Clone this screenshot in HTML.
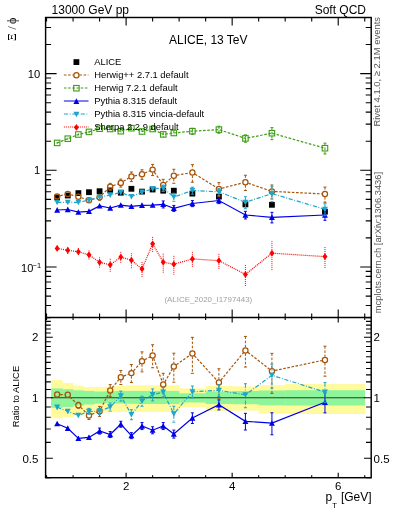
<!DOCTYPE html>
<html><head><meta charset="utf-8"><style>
html,body{margin:0;padding:0;background:#fff;width:393px;height:512px;overflow:hidden}
svg text{font-family:"Liberation Sans",sans-serif}
svg{will-change:transform}
</style></head><body>
<svg width="393" height="512" viewBox="0 0 393 512" style="position:absolute;left:0;top:0">
<defs><clipPath id="cu"><rect x="45.6" y="17.5" width="325.59999999999997" height="299.9"/></clipPath><clipPath id="cr"><rect x="45.6" y="317.4" width="325.59999999999997" height="160.3"/></clipPath></defs>
<rect width="393" height="512" fill="#fff"/>
<rect x="51.10" y="380.1" width="11.66" height="38.20" fill="#fffa9c"/>
<rect x="62.46" y="382.9" width="10.91" height="34.10" fill="#fffa9c"/>
<rect x="73.07" y="385.8" width="10.91" height="29.90" fill="#fffa9c"/>
<rect x="83.68" y="387.1" width="10.91" height="26.40" fill="#fffa9c"/>
<rect x="94.28" y="387.1" width="10.91" height="25.40" fill="#fffa9c"/>
<rect x="104.89" y="386.7" width="10.91" height="25.50" fill="#fffa9c"/>
<rect x="115.49" y="385.8" width="10.91" height="26.10" fill="#fffa9c"/>
<rect x="126.10" y="385.4" width="10.91" height="26.50" fill="#fffa9c"/>
<rect x="136.71" y="385.2" width="10.91" height="26.70" fill="#fffa9c"/>
<rect x="147.31" y="385.2" width="10.91" height="26.70" fill="#fffa9c"/>
<rect x="157.92" y="385.2" width="10.91" height="26.70" fill="#fffa9c"/>
<rect x="168.52" y="385.2" width="10.91" height="26.70" fill="#fffa9c"/>
<rect x="179.13" y="388.4" width="26.81" height="18.70" fill="#fffa9c"/>
<rect x="205.64" y="386.0" width="26.82" height="24.90" fill="#fffa9c"/>
<rect x="232.16" y="386.4" width="26.81" height="24.20" fill="#fffa9c"/>
<rect x="258.67" y="385.1" width="26.82" height="28.50" fill="#fffa9c"/>
<rect x="285.19" y="384.1" width="79.85" height="29.90" fill="#fffa9c"/>
<rect x="51.10" y="388.4" width="11.66" height="19.40" fill="#8ef59a"/>
<rect x="62.46" y="389.2" width="10.91" height="17.80" fill="#8ef59a"/>
<rect x="73.07" y="390.3" width="10.91" height="15.20" fill="#8ef59a"/>
<rect x="83.68" y="390.9" width="10.91" height="13.60" fill="#8ef59a"/>
<rect x="94.28" y="391.5" width="10.91" height="12.10" fill="#8ef59a"/>
<rect x="104.89" y="391.3" width="10.91" height="11.90" fill="#8ef59a"/>
<rect x="115.49" y="390.9" width="10.91" height="12.70" fill="#8ef59a"/>
<rect x="126.10" y="390.9" width="10.91" height="12.90" fill="#8ef59a"/>
<rect x="136.71" y="390.9" width="10.91" height="13.10" fill="#8ef59a"/>
<rect x="147.31" y="390.9" width="10.91" height="13.10" fill="#8ef59a"/>
<rect x="157.92" y="390.9" width="10.91" height="13.10" fill="#8ef59a"/>
<rect x="168.52" y="390.9" width="10.91" height="13.10" fill="#8ef59a"/>
<rect x="179.13" y="393.3" width="26.81" height="9.20" fill="#8ef59a"/>
<rect x="205.64" y="391.5" width="26.82" height="12.50" fill="#8ef59a"/>
<rect x="232.16" y="391.0" width="26.81" height="13.20" fill="#8ef59a"/>
<rect x="258.67" y="390.5" width="26.82" height="14.80" fill="#8ef59a"/>
<rect x="285.19" y="390.2" width="79.85" height="15.30" fill="#8ef59a"/>
<line x1="51.1" y1="397.8" x2="364.74" y2="397.8" stroke="#2a3a2a" stroke-width="1.1"/>
<path d="M46.55,17.50L46.55,21.50M46.55,317.40L46.55,313.40M46.55,317.40L46.55,319.90M46.55,477.70L46.55,475.20M73.07,17.50L73.07,21.50M73.07,317.40L73.07,313.40M73.07,317.40L73.07,319.90M73.07,477.70L73.07,475.20M99.58,17.50L99.58,21.50M99.58,317.40L99.58,313.40M99.58,317.40L99.58,319.90M99.58,477.70L99.58,475.20M126.10,17.50L126.10,25.50M126.10,317.40L126.10,309.40M126.10,317.40L126.10,322.40M126.10,477.70L126.10,472.70M152.62,17.50L152.62,21.50M152.62,317.40L152.62,313.40M152.62,317.40L152.62,319.90M152.62,477.70L152.62,475.20M179.13,17.50L179.13,21.50M179.13,317.40L179.13,313.40M179.13,317.40L179.13,319.90M179.13,477.70L179.13,475.20M205.64,17.50L205.64,21.50M205.64,317.40L205.64,313.40M205.64,317.40L205.64,319.90M205.64,477.70L205.64,475.20M232.16,17.50L232.16,25.50M232.16,317.40L232.16,309.40M232.16,317.40L232.16,322.40M232.16,477.70L232.16,472.70M258.67,17.50L258.67,21.50M258.67,317.40L258.67,313.40M258.67,317.40L258.67,319.90M258.67,477.70L258.67,475.20M285.19,17.50L285.19,21.50M285.19,317.40L285.19,313.40M285.19,317.40L285.19,319.90M285.19,477.70L285.19,475.20M311.71,17.50L311.71,21.50M311.71,317.40L311.71,313.40M311.71,317.40L311.71,319.90M311.71,477.70L311.71,475.20M338.22,17.50L338.22,25.50M338.22,317.40L338.22,309.40M338.22,317.40L338.22,322.40M338.22,477.70L338.22,472.70M364.74,17.50L364.74,21.50M364.74,317.40L364.74,313.40M364.74,317.40L364.74,319.90M364.74,477.70L364.74,475.20M45.60,317.56L51.10,317.56M371.20,317.56L365.70,317.56M45.60,305.48L51.10,305.48M371.20,305.48L365.70,305.48M45.60,296.11L51.10,296.11M371.20,296.11L365.70,296.11M45.60,288.45L51.10,288.45M371.20,288.45L365.70,288.45M45.60,281.98L51.10,281.98M371.20,281.98L365.70,281.98M45.60,276.37L51.10,276.37M371.20,276.37L365.70,276.37M45.60,271.42L51.10,271.42M371.20,271.42L365.70,271.42M45.60,267.00L56.60,267.00M371.20,267.00L360.20,267.00M45.60,237.89L51.10,237.89M371.20,237.89L365.70,237.89M45.60,220.86L51.10,220.86M371.20,220.86L365.70,220.86M45.60,208.78L51.10,208.78M371.20,208.78L365.70,208.78M45.60,199.41L51.10,199.41M371.20,199.41L365.70,199.41M45.60,191.75L51.10,191.75M371.20,191.75L365.70,191.75M45.60,185.28L51.10,185.28M371.20,185.28L365.70,185.28M45.60,179.67L51.10,179.67M371.20,179.67L365.70,179.67M45.60,174.72L51.10,174.72M371.20,174.72L365.70,174.72M45.60,170.30L56.60,170.30M371.20,170.30L360.20,170.30M45.60,141.19L51.10,141.19M371.20,141.19L365.70,141.19M45.60,124.16L51.10,124.16M371.20,124.16L365.70,124.16M45.60,112.08L51.10,112.08M371.20,112.08L365.70,112.08M45.60,102.71L51.10,102.71M371.20,102.71L365.70,102.71M45.60,95.05L51.10,95.05M371.20,95.05L365.70,95.05M45.60,88.58L51.10,88.58M371.20,88.58L365.70,88.58M45.60,82.97L51.10,82.97M371.20,82.97L365.70,82.97M45.60,78.02L51.10,78.02M371.20,78.02L365.70,78.02M45.60,73.60L56.60,73.60M371.20,73.60L360.20,73.60M45.60,44.49L51.10,44.49M371.20,44.49L365.70,44.49M45.60,27.46L51.10,27.46M371.20,27.46L365.70,27.46M45.60,477.79L50.80,477.79M371.20,477.79L366.00,477.79M45.60,458.31L52.80,458.31M371.20,458.31L364.00,458.31M45.60,442.39L50.80,442.39M371.20,442.39L366.00,442.39M45.60,428.94L50.80,428.94M371.20,428.94L366.00,428.94M45.60,417.28L50.80,417.28M371.20,417.28L366.00,417.28M45.60,407.00L50.80,407.00M371.20,407.00L366.00,407.00M45.60,397.80L52.80,397.80M371.20,397.80L364.00,397.80M45.60,389.48L50.80,389.48M371.20,389.48L366.00,389.48M45.60,381.88L50.80,381.88M371.20,381.88L366.00,381.88M45.60,374.90L50.80,374.90M371.20,374.90L366.00,374.90M45.60,368.43L50.80,368.43M371.20,368.43L366.00,368.43M45.60,362.41L50.80,362.41M371.20,362.41L366.00,362.41M45.60,356.77L50.80,356.77M371.20,356.77L366.00,356.77M45.60,351.48L50.80,351.48M371.20,351.48L366.00,351.48M45.60,346.49L50.80,346.49M371.20,346.49L366.00,346.49M45.60,341.77L50.80,341.77M371.20,341.77L366.00,341.77M45.60,337.29L52.80,337.29M371.20,337.29L364.00,337.29M45.60,333.03L50.80,333.03M371.20,333.03L366.00,333.03M45.60,328.97L50.80,328.97M371.20,328.97L366.00,328.97M45.60,325.09L50.80,325.09M371.20,325.09L366.00,325.09M45.60,321.38L50.80,321.38M371.20,321.38L366.00,321.38M45.60,317.81L50.80,317.81M371.20,317.81L366.00,317.81" stroke="#000" stroke-width="1.1" fill="none"/>
<rect x="45.6" y="17.5" width="325.59999999999997" height="460.2" fill="none" stroke="#000" stroke-width="1.45"/>
<line x1="45.6" y1="317.4" x2="371.2" y2="317.4" stroke="#000" stroke-width="1.45"/>
<g><rect x="54.26" y="194.60" width="5.8" height="5.8" fill="#000"/><rect x="64.87" y="192.60" width="5.8" height="5.8" fill="#000"/><rect x="75.47" y="190.20" width="5.8" height="5.8" fill="#000"/><rect x="86.08" y="189.30" width="5.8" height="5.8" fill="#000"/><rect x="96.68" y="188.30" width="5.8" height="5.8" fill="#000"/><rect x="107.29" y="187.50" width="5.8" height="5.8" fill="#000"/><rect x="117.90" y="189.80" width="5.8" height="5.8" fill="#000"/><rect x="128.50" y="185.90" width="5.8" height="5.8" fill="#000"/><rect x="139.11" y="188.70" width="5.8" height="5.8" fill="#000"/><rect x="149.72" y="186.60" width="5.8" height="5.8" fill="#000"/><rect x="160.32" y="187.80" width="5.8" height="5.8" fill="#000"/><rect x="170.93" y="187.80" width="5.8" height="5.8" fill="#000"/><rect x="189.49" y="190.70" width="5.8" height="5.8" fill="#000"/><rect x="216.00" y="193.70" width="5.8" height="5.8" fill="#000"/><rect x="242.52" y="201.50" width="5.8" height="5.8" fill="#000"/><rect x="269.03" y="201.90" width="5.8" height="5.8" fill="#000"/><rect x="322.06" y="208.80" width="5.8" height="5.8" fill="#000"/></g>
<path d="M60.18,195.72L64.74,194.68M70.77,194.76L75.37,195.94M81.31,197.70L86.04,199.30M91.95,199.43L96.61,198.07M101.79,195.02L107.99,188.88M113.11,185.65L117.88,183.95M123.45,181.30L128.75,178.10M134.44,175.87L138.97,174.93M144.84,173.04L149.78,170.86M154.38,172.15L161.45,182.35M165.56,182.87L171.49,177.73M176.88,175.17L189.33,173.03M195.02,174.14L216.27,187.36M221.91,188.23L242.41,182.97M248.35,183.22L269.00,190.38M275.03,191.55L321.87,193.85" fill="none" stroke="#a5540a" stroke-width="1.2" stroke-dasharray="2.6 1.6" clip-path="url(#cu)"/>
<path d="M99.58,200.20V200.31M110.19,183.35V183.70M110.19,189.70V190.35M120.80,179.09V179.90M120.80,185.90V187.09M131.40,171.97V173.50M131.40,179.50V181.57M142.01,169.77V171.30M142.01,177.30V179.37M152.62,164.37V166.60M152.62,172.60V175.57M163.22,179.33V181.90M163.22,187.90V191.33M173.83,169.28V172.70M173.83,178.70V183.28M192.39,164.62V169.50M192.39,175.50V182.22M218.90,182.58V186.00M218.90,192.00V196.58M245.42,175.28V179.20M245.42,185.20V190.48M271.93,184.98V188.40M271.93,194.40V198.98M324.96,187.08V191.00M324.96,197.00V202.28" fill="none" stroke="#a5540a" stroke-width="1.0" stroke-dasharray="2.6 1.6" clip-path="url(#cu)"/>
<path d="M98.08,194.31H101.08M98.08,200.31H101.08M108.69,183.35H111.69M108.69,190.35H111.69M119.30,179.09H122.30M119.30,187.09H122.30M129.90,171.97H132.90M129.90,181.57H132.90M140.51,169.77H143.51M140.51,179.37H143.51M151.12,164.37H154.12M151.12,175.57H154.12M161.72,179.33H164.72M161.72,191.33H164.72M172.33,169.28H175.33M172.33,183.28H175.33M190.89,164.62H193.89M190.89,182.22H193.89M217.40,182.58H220.40M217.40,196.58H220.40M243.92,175.28H246.92M243.92,190.48H246.92M270.43,184.98H273.43M270.43,198.98H273.43M323.46,187.08H326.46M323.46,202.28H326.46" fill="none" stroke="#a5540a" stroke-width="1" clip-path="url(#cu)"/>
<g clip-path="url(#cu)"><circle cx="57.16" cy="196.40" r="2.6" fill="none" stroke="#a5540a" stroke-width="1.25"/><circle cx="67.77" cy="194.00" r="2.6" fill="none" stroke="#a5540a" stroke-width="1.25"/><circle cx="78.37" cy="196.70" r="2.6" fill="none" stroke="#a5540a" stroke-width="1.25"/><circle cx="88.98" cy="200.30" r="2.6" fill="none" stroke="#a5540a" stroke-width="1.25"/><circle cx="99.58" cy="197.20" r="2.6" fill="none" stroke="#a5540a" stroke-width="1.25"/><circle cx="110.19" cy="186.70" r="2.6" fill="none" stroke="#a5540a" stroke-width="1.25"/><circle cx="120.80" cy="182.90" r="2.6" fill="none" stroke="#a5540a" stroke-width="1.25"/><circle cx="131.40" cy="176.50" r="2.6" fill="none" stroke="#a5540a" stroke-width="1.25"/><circle cx="142.01" cy="174.30" r="2.6" fill="none" stroke="#a5540a" stroke-width="1.25"/><circle cx="152.62" cy="169.60" r="2.6" fill="none" stroke="#a5540a" stroke-width="1.25"/><circle cx="163.22" cy="184.90" r="2.6" fill="none" stroke="#a5540a" stroke-width="1.25"/><circle cx="173.83" cy="175.70" r="2.6" fill="none" stroke="#a5540a" stroke-width="1.25"/><circle cx="192.39" cy="172.50" r="2.6" fill="none" stroke="#a5540a" stroke-width="1.25"/><circle cx="218.90" cy="189.00" r="2.6" fill="none" stroke="#a5540a" stroke-width="1.25"/><circle cx="245.42" cy="182.20" r="2.6" fill="none" stroke="#a5540a" stroke-width="1.25"/><circle cx="271.93" cy="191.40" r="2.6" fill="none" stroke="#a5540a" stroke-width="1.25"/><circle cx="324.96" cy="194.00" r="2.6" fill="none" stroke="#a5540a" stroke-width="1.25"/></g>
<polyline points="57.16,142.90 67.77,138.70 78.37,134.50 88.98,131.90 99.58,128.70 110.19,129.00 120.80,131.20 131.40,128.20 142.01,131.50 152.62,129.00 163.22,134.40 173.83,133.00 192.39,131.20 218.90,129.60 245.42,138.40 271.93,133.20 324.96,148.20" fill="none" stroke="#3d9e16" stroke-width="1.2" stroke-dasharray="2.6 1.6" clip-path="url(#cu)"/>
<path d="M57.16,141.91V143.91M67.77,137.71V139.71M78.37,133.51V135.51M88.98,130.72V133.12M99.58,127.52V129.92M110.19,127.53V130.53M120.80,129.73V132.73M131.40,126.73V129.73M142.01,129.55V133.55M152.62,127.05V131.05M163.22,131.97V136.97M173.83,130.57V135.57M192.39,128.31V134.31M218.90,126.25V133.25M245.42,134.86V142.26M271.93,127.63V139.63M324.96,143.15V153.95" fill="none" stroke="#3d9e16" stroke-width="1.0" stroke-dasharray="2.6 1.6" clip-path="url(#cu)"/>
<path d="M190.89,128.31H193.89M190.89,134.31H193.89M217.40,126.25H220.40M217.40,133.25H220.40M243.92,134.86H246.92M243.92,142.26H246.92M270.43,127.63H273.43M270.43,139.63H273.43M323.46,143.15H326.46M323.46,153.95H326.46" fill="none" stroke="#3d9e16" stroke-width="1" clip-path="url(#cu)"/>
<g clip-path="url(#cu)"><rect x="54.41" y="140.15" width="5.5" height="5.5" fill="none" stroke="#3d9e16" stroke-width="1.1"/><rect x="65.02" y="135.95" width="5.5" height="5.5" fill="none" stroke="#3d9e16" stroke-width="1.1"/><rect x="75.62" y="131.75" width="5.5" height="5.5" fill="none" stroke="#3d9e16" stroke-width="1.1"/><rect x="86.23" y="129.15" width="5.5" height="5.5" fill="none" stroke="#3d9e16" stroke-width="1.1"/><rect x="96.83" y="125.95" width="5.5" height="5.5" fill="none" stroke="#3d9e16" stroke-width="1.1"/><rect x="107.44" y="126.25" width="5.5" height="5.5" fill="none" stroke="#3d9e16" stroke-width="1.1"/><rect x="118.05" y="128.45" width="5.5" height="5.5" fill="none" stroke="#3d9e16" stroke-width="1.1"/><rect x="128.65" y="125.45" width="5.5" height="5.5" fill="none" stroke="#3d9e16" stroke-width="1.1"/><rect x="139.26" y="128.75" width="5.5" height="5.5" fill="none" stroke="#3d9e16" stroke-width="1.1"/><rect x="149.87" y="126.25" width="5.5" height="5.5" fill="none" stroke="#3d9e16" stroke-width="1.1"/><rect x="160.47" y="131.65" width="5.5" height="5.5" fill="none" stroke="#3d9e16" stroke-width="1.1"/><rect x="171.08" y="130.25" width="5.5" height="5.5" fill="none" stroke="#3d9e16" stroke-width="1.1"/><rect x="189.64" y="128.45" width="5.5" height="5.5" fill="none" stroke="#3d9e16" stroke-width="1.1"/><rect x="216.15" y="126.85" width="5.5" height="5.5" fill="none" stroke="#3d9e16" stroke-width="1.1"/><rect x="242.67" y="135.65" width="5.5" height="5.5" fill="none" stroke="#3d9e16" stroke-width="1.1"/><rect x="269.18" y="130.45" width="5.5" height="5.5" fill="none" stroke="#3d9e16" stroke-width="1.1"/><rect x="322.21" y="145.45" width="5.5" height="5.5" fill="none" stroke="#3d9e16" stroke-width="1.1"/></g>
<polyline points="57.16,210.00 67.77,209.50 78.37,212.20 88.98,211.30 99.58,205.90 110.19,208.00 120.80,205.10 131.40,206.40 142.01,205.30 152.62,205.10 163.22,204.30 173.83,208.30 192.39,203.50 218.90,200.50 245.42,215.00 271.93,217.30 324.96,215.00" fill="none" stroke="#0000e6" stroke-width="1.2" clip-path="url(#cu)"/>
<path d="M57.16,209.01V211.01M67.77,208.51V210.51M78.37,211.21V213.21M88.98,210.12V212.52M99.58,204.43V207.43M110.19,206.53V209.53M120.80,203.63V206.63M131.40,204.45V208.45M142.01,203.35V207.35M152.62,203.15V207.15M163.22,200.95V207.95M173.83,205.41V211.41M192.39,200.61V206.61M218.90,197.61V203.61M245.42,211.37V218.97M271.93,212.33V222.93M324.96,210.30V220.30" fill="none" stroke="#0000e6" stroke-width="1.0" clip-path="url(#cu)"/>
<path d="M161.72,200.95H164.72M161.72,207.95H164.72M172.33,205.41H175.33M172.33,211.41H175.33M190.89,200.61H193.89M190.89,206.61H193.89M217.40,197.61H220.40M217.40,203.61H220.40M243.92,211.37H246.92M243.92,218.97H246.92M270.43,212.33H273.43M270.43,222.93H273.43M323.46,210.30H326.46M323.46,220.30H326.46" fill="none" stroke="#0000e6" stroke-width="1" clip-path="url(#cu)"/>
<g clip-path="url(#cu)"><path d="M57.16,207.05L60.11,212.66L54.21,212.66Z" fill="#0000e6"/><path d="M67.77,206.55L70.72,212.16L64.82,212.16Z" fill="#0000e6"/><path d="M78.37,209.25L81.32,214.85L75.42,214.85Z" fill="#0000e6"/><path d="M88.98,208.35L91.93,213.96L86.03,213.96Z" fill="#0000e6"/><path d="M99.58,202.95L102.53,208.56L96.63,208.56Z" fill="#0000e6"/><path d="M110.19,205.05L113.14,210.66L107.24,210.66Z" fill="#0000e6"/><path d="M120.80,202.15L123.75,207.75L117.85,207.75Z" fill="#0000e6"/><path d="M131.40,203.45L134.35,209.06L128.45,209.06Z" fill="#0000e6"/><path d="M142.01,202.35L144.96,207.96L139.06,207.96Z" fill="#0000e6"/><path d="M152.62,202.15L155.56,207.75L149.67,207.75Z" fill="#0000e6"/><path d="M163.22,201.35L166.17,206.96L160.27,206.96Z" fill="#0000e6"/><path d="M173.83,205.35L176.78,210.96L170.88,210.96Z" fill="#0000e6"/><path d="M192.39,200.55L195.34,206.16L189.44,206.16Z" fill="#0000e6"/><path d="M218.90,197.55L221.85,203.16L215.95,203.16Z" fill="#0000e6"/><path d="M245.42,212.05L248.37,217.66L242.47,217.66Z" fill="#0000e6"/><path d="M271.93,214.35L274.88,219.96L268.98,219.96Z" fill="#0000e6"/><path d="M324.96,212.05L327.91,217.66L322.01,217.66Z" fill="#0000e6"/></g>
<polyline points="57.16,202.40 67.77,202.30 78.37,202.30 88.98,200.20 99.58,197.10 110.19,195.00 120.80,192.40 131.40,196.60 142.01,192.10 152.62,188.80 163.22,188.00 173.83,197.10 192.39,190.50 218.90,191.80 245.42,202.30 271.93,193.60 324.96,209.30" fill="none" stroke="#1ea5c8" stroke-width="1.2" stroke-dasharray="4.2 1.6 0.9 1.7" clip-path="url(#cu)"/>
<path d="M57.16,201.41V203.41M67.77,201.31V203.31M78.37,201.31V203.31M88.98,199.02V201.42M99.58,195.63V198.63M110.19,193.53V196.53M120.80,190.45V194.45M131.40,194.65V198.65M142.01,189.67V194.67M152.62,186.37V191.37M163.22,185.11V191.11M173.83,193.29V201.29M192.39,187.15V194.15M218.90,188.45V195.45M245.42,196.73V208.73M271.93,186.77V201.77M324.96,203.73V215.73" fill="none" stroke="#1ea5c8" stroke-width="1.0" stroke-dasharray="4.2 1.6 0.9 1.7" clip-path="url(#cu)"/>
<path d="M161.72,185.11H164.72M161.72,191.11H164.72M172.33,193.29H175.33M172.33,201.29H175.33M190.89,187.15H193.89M190.89,194.15H193.89M217.40,188.45H220.40M217.40,195.45H220.40M243.92,196.73H246.92M243.92,208.73H246.92M270.43,186.77H273.43M270.43,201.77H273.43M323.46,203.73H326.46M323.46,215.73H326.46" fill="none" stroke="#1ea5c8" stroke-width="1" clip-path="url(#cu)"/>
<g clip-path="url(#cu)"><path d="M57.16,205.35L60.11,199.75L54.21,199.75Z" fill="#1ea5c8"/><path d="M67.77,205.25L70.72,199.65L64.82,199.65Z" fill="#1ea5c8"/><path d="M78.37,205.25L81.32,199.65L75.42,199.65Z" fill="#1ea5c8"/><path d="M88.98,203.15L91.93,197.54L86.03,197.54Z" fill="#1ea5c8"/><path d="M99.58,200.05L102.53,194.44L96.63,194.44Z" fill="#1ea5c8"/><path d="M110.19,197.95L113.14,192.34L107.24,192.34Z" fill="#1ea5c8"/><path d="M120.80,195.35L123.75,189.75L117.85,189.75Z" fill="#1ea5c8"/><path d="M131.40,199.55L134.35,193.94L128.45,193.94Z" fill="#1ea5c8"/><path d="M142.01,195.05L144.96,189.44L139.06,189.44Z" fill="#1ea5c8"/><path d="M152.62,191.75L155.56,186.15L149.67,186.15Z" fill="#1ea5c8"/><path d="M163.22,190.95L166.17,185.34L160.27,185.34Z" fill="#1ea5c8"/><path d="M173.83,200.05L176.78,194.44L170.88,194.44Z" fill="#1ea5c8"/><path d="M192.39,193.45L195.34,187.84L189.44,187.84Z" fill="#1ea5c8"/><path d="M218.90,194.75L221.85,189.15L215.95,189.15Z" fill="#1ea5c8"/><path d="M245.42,205.25L248.37,199.65L242.47,199.65Z" fill="#1ea5c8"/><path d="M271.93,196.55L274.88,190.94L268.98,190.94Z" fill="#1ea5c8"/><path d="M324.96,212.25L327.91,206.65L322.01,206.65Z" fill="#1ea5c8"/></g>
<polyline points="57.16,248.40 67.77,250.30 78.37,251.80 88.98,254.80 99.58,262.30 110.19,264.80 120.80,257.10 131.40,260.20 142.01,268.90 152.62,243.80 163.22,262.20 173.83,264.20 192.39,258.90 218.90,260.70 245.42,274.40 271.93,253.20 324.96,256.60" fill="none" stroke="#ff0000" stroke-width="1.2" stroke-dasharray="1 1" clip-path="url(#cu)"/>
<path d="M57.16,245.51V251.51M67.77,246.95V253.95M78.37,247.99V255.99M88.98,250.45V259.65M99.58,257.33V267.93M110.19,258.80V271.80M120.80,251.79V263.19M131.40,253.28V268.48M142.01,261.98V277.18M152.62,236.88V252.08M163.22,253.69V272.89M173.83,255.84V274.64M192.39,251.82V267.42M218.90,253.87V268.87M245.42,265.05V286.45M271.93,241.15V270.15M324.96,247.02V269.02" fill="none" stroke="#ff0000" stroke-width="1.0" stroke-dasharray="1 1" clip-path="url(#cu)"/>
<g clip-path="url(#cu)"><path d="M57.16,245.00L59.66,248.40L57.16,251.80L54.66,248.40Z" fill="#ff0000"/><path d="M67.77,246.90L70.27,250.30L67.77,253.70L65.27,250.30Z" fill="#ff0000"/><path d="M78.37,248.40L80.87,251.80L78.37,255.20L75.87,251.80Z" fill="#ff0000"/><path d="M88.98,251.40L91.48,254.80L88.98,258.20L86.48,254.80Z" fill="#ff0000"/><path d="M99.58,258.90L102.08,262.30L99.58,265.70L97.08,262.30Z" fill="#ff0000"/><path d="M110.19,261.40L112.69,264.80L110.19,268.20L107.69,264.80Z" fill="#ff0000"/><path d="M120.80,253.70L123.30,257.10L120.80,260.50L118.30,257.10Z" fill="#ff0000"/><path d="M131.40,256.80L133.90,260.20L131.40,263.60L128.90,260.20Z" fill="#ff0000"/><path d="M142.01,265.50L144.51,268.90L142.01,272.30L139.51,268.90Z" fill="#ff0000"/><path d="M152.62,240.40L155.12,243.80L152.62,247.20L150.12,243.80Z" fill="#ff0000"/><path d="M163.22,258.80L165.72,262.20L163.22,265.60L160.72,262.20Z" fill="#ff0000"/><path d="M173.83,260.80L176.33,264.20L173.83,267.60L171.33,264.20Z" fill="#ff0000"/><path d="M192.39,255.50L194.89,258.90L192.39,262.30L189.89,258.90Z" fill="#ff0000"/><path d="M218.90,257.30L221.40,260.70L218.90,264.10L216.40,260.70Z" fill="#ff0000"/><path d="M245.42,271.00L247.92,274.40L245.42,277.80L242.92,274.40Z" fill="#ff0000"/><path d="M271.93,249.80L274.43,253.20L271.93,256.60L269.43,253.20Z" fill="#ff0000"/><path d="M324.96,253.20L327.46,256.60L324.96,260.00L322.46,256.60Z" fill="#ff0000"/></g>
<path d="M60.26,394.59L64.67,394.71M69.98,396.97L76.16,403.03M80.61,407.35L86.74,413.25M91.87,414.28L96.69,412.42M100.99,408.54L108.79,393.16M112.13,387.98L118.86,379.62M123.69,376.08L128.51,374.22M133.48,370.79L139.94,363.61M144.73,359.81L149.90,356.99M153.68,358.41L162.16,381.59M164.79,381.83L172.25,369.17M176.37,364.72L189.85,355.28M194.48,355.79L216.81,380.21M220.88,380.11L243.44,352.79M247.86,352.31L269.49,369.19M274.97,370.46L321.93,360.54" fill="none" stroke="#a5540a" stroke-width="1.2" stroke-dasharray="2.6 1.6" clip-path="url(#cr)"/>
<path d="M78.37,408.20V408.25M88.98,411.49V412.40M88.98,418.40V419.49M99.58,406.44V408.30M99.58,414.30V416.44M110.19,384.61V387.40M110.19,393.40V396.61M120.80,370.48V374.20M120.80,380.20V384.48M131.40,364.56V370.10M131.40,376.10V382.56M142.01,351.87V358.30M142.01,364.30V371.87M152.62,344.76V352.50M152.62,358.50V367.76M163.22,373.32V381.50M163.22,387.50V397.32M173.83,353.20V363.50M173.83,369.50V382.20M192.39,337.34V350.50M192.39,356.50V373.34M218.90,368.78V379.50M218.90,385.50V398.78M245.42,336.43V347.40M245.42,353.40V367.03M271.93,353.37V368.10M271.93,374.10V393.37M324.96,346.18V356.90M324.96,362.90V376.18" fill="none" stroke="#a5540a" stroke-width="1.0" stroke-dasharray="2.6 1.6" clip-path="url(#cr)"/>
<path d="M76.87,402.25H79.87M76.87,408.25H79.87M87.48,411.49H90.48M87.48,419.49H90.48M98.08,406.44H101.08M98.08,416.44H101.08M108.69,384.61H111.69M108.69,396.61H111.69M119.30,370.48H122.30M119.30,384.48H122.30M129.90,364.56H132.90M129.90,382.56H132.90M140.51,351.87H143.51M140.51,371.87H143.51M151.12,344.76H154.12M151.12,367.76H154.12M161.72,373.32H164.72M161.72,397.32H164.72M172.33,353.20H175.33M172.33,382.20H175.33M190.89,337.34H193.89M190.89,373.34H193.89M217.40,368.78H220.40M217.40,398.78H220.40M243.92,336.43H246.92M243.92,367.03H246.92M270.43,353.37H273.43M270.43,393.37H273.43M323.46,346.18H326.46M323.46,376.18H326.46" fill="none" stroke="#a5540a" stroke-width="1" clip-path="url(#cr)"/>
<g clip-path="url(#cr)"><circle cx="57.16" cy="394.50" r="2.6" fill="none" stroke="#a5540a" stroke-width="1.25"/><circle cx="67.77" cy="394.80" r="2.6" fill="none" stroke="#a5540a" stroke-width="1.25"/><circle cx="78.37" cy="405.20" r="2.6" fill="none" stroke="#a5540a" stroke-width="1.25"/><circle cx="88.98" cy="415.40" r="2.6" fill="none" stroke="#a5540a" stroke-width="1.25"/><circle cx="99.58" cy="411.30" r="2.6" fill="none" stroke="#a5540a" stroke-width="1.25"/><circle cx="110.19" cy="390.40" r="2.6" fill="none" stroke="#a5540a" stroke-width="1.25"/><circle cx="120.80" cy="377.20" r="2.6" fill="none" stroke="#a5540a" stroke-width="1.25"/><circle cx="131.40" cy="373.10" r="2.6" fill="none" stroke="#a5540a" stroke-width="1.25"/><circle cx="142.01" cy="361.30" r="2.6" fill="none" stroke="#a5540a" stroke-width="1.25"/><circle cx="152.62" cy="355.50" r="2.6" fill="none" stroke="#a5540a" stroke-width="1.25"/><circle cx="163.22" cy="384.50" r="2.6" fill="none" stroke="#a5540a" stroke-width="1.25"/><circle cx="173.83" cy="366.50" r="2.6" fill="none" stroke="#a5540a" stroke-width="1.25"/><circle cx="192.39" cy="353.50" r="2.6" fill="none" stroke="#a5540a" stroke-width="1.25"/><circle cx="218.90" cy="382.50" r="2.6" fill="none" stroke="#a5540a" stroke-width="1.25"/><circle cx="245.42" cy="350.40" r="2.6" fill="none" stroke="#a5540a" stroke-width="1.25"/><circle cx="271.93" cy="371.10" r="2.6" fill="none" stroke="#a5540a" stroke-width="1.25"/><circle cx="324.96" cy="359.90" r="2.6" fill="none" stroke="#a5540a" stroke-width="1.25"/></g>
<polyline points="57.16,423.70 67.77,428.30 78.37,438.40 88.98,437.40 99.58,431.00 110.19,434.50 120.80,424.20 131.40,435.60 142.01,426.00 152.62,430.20 163.22,426.00 173.83,434.00 192.39,418.00 218.90,404.80 245.42,421.30 271.93,423.10 324.96,402.30" fill="none" stroke="#0000e6" stroke-width="1.2" clip-path="url(#cr)"/>
<path d="M57.16,422.21V425.21M67.77,426.81V429.81M78.37,436.42V440.42M88.98,435.42V439.42M99.58,428.05V434.05M110.19,431.55V437.55M120.80,421.25V427.25M131.40,432.65V438.65M142.01,422.57V429.57M152.62,426.77V433.77M163.22,422.57V429.57M173.83,430.09V438.09M192.39,412.86V423.46M218.90,399.94V409.94M245.42,413.39V429.99M271.93,412.79V434.79M324.96,392.87V412.87" fill="none" stroke="#0000e6" stroke-width="1.0" clip-path="url(#cr)"/>
<path d="M98.08,428.05H101.08M98.08,434.05H101.08M108.69,431.55H111.69M108.69,437.55H111.69M119.30,421.25H122.30M119.30,427.25H122.30M129.90,432.65H132.90M129.90,438.65H132.90M140.51,422.57H143.51M140.51,429.57H143.51M151.12,426.77H154.12M151.12,433.77H154.12M161.72,422.57H164.72M161.72,429.57H164.72M172.33,430.09H175.33M172.33,438.09H175.33M190.89,412.86H193.89M190.89,423.46H193.89M217.40,399.94H220.40M217.40,409.94H220.40M243.92,413.39H246.92M243.92,429.99H246.92M270.43,412.79H273.43M270.43,434.79H273.43M323.46,392.87H326.46M323.46,412.87H326.46" fill="none" stroke="#0000e6" stroke-width="1" clip-path="url(#cr)"/>
<g clip-path="url(#cr)"><path d="M57.16,420.75L60.11,426.35L54.21,426.35Z" fill="#0000e6"/><path d="M67.77,425.35L70.72,430.95L64.82,430.95Z" fill="#0000e6"/><path d="M78.37,435.45L81.32,441.05L75.42,441.05Z" fill="#0000e6"/><path d="M88.98,434.45L91.93,440.05L86.03,440.05Z" fill="#0000e6"/><path d="M99.58,428.05L102.53,433.65L96.63,433.65Z" fill="#0000e6"/><path d="M110.19,431.55L113.14,437.15L107.24,437.15Z" fill="#0000e6"/><path d="M120.80,421.25L123.75,426.85L117.85,426.85Z" fill="#0000e6"/><path d="M131.40,432.65L134.35,438.25L128.45,438.25Z" fill="#0000e6"/><path d="M142.01,423.05L144.96,428.65L139.06,428.65Z" fill="#0000e6"/><path d="M152.62,427.25L155.56,432.85L149.67,432.85Z" fill="#0000e6"/><path d="M163.22,423.05L166.17,428.65L160.27,428.65Z" fill="#0000e6"/><path d="M173.83,431.05L176.78,436.65L170.88,436.65Z" fill="#0000e6"/><path d="M192.39,415.05L195.34,420.65L189.44,420.65Z" fill="#0000e6"/><path d="M218.90,401.85L221.85,407.45L215.95,407.45Z" fill="#0000e6"/><path d="M245.42,418.35L248.37,423.95L242.47,423.95Z" fill="#0000e6"/><path d="M271.93,420.15L274.88,425.75L268.98,425.75Z" fill="#0000e6"/><path d="M324.96,399.35L327.91,404.95L322.01,404.95Z" fill="#0000e6"/></g>
<polyline points="57.16,407.20 67.77,411.30 78.37,415.40 88.98,411.30 99.58,411.30 110.19,407.00 120.80,396.00 131.40,414.60 142.01,401.10 152.62,394.70 163.22,392.20 173.83,413.80 192.39,391.80 218.90,390.30 245.42,394.90 271.93,375.30 324.96,392.10" fill="none" stroke="#1ea5c8" stroke-width="1.2" stroke-dasharray="4.2 1.6 0.9 1.7" clip-path="url(#cr)"/>
<path d="M57.16,405.22V409.22M67.77,409.32V413.32M78.37,413.42V417.42M88.98,408.35V414.35M99.58,408.35V414.35M110.19,403.09V411.09M120.80,391.14V401.14M131.40,409.74V419.74M142.01,396.24V406.24M152.62,388.91V400.91M163.22,387.34V397.34M173.83,406.17V422.17M192.39,386.01V398.01M218.90,384.51V396.51M245.42,383.72V407.72M271.93,364.12V388.12M324.96,382.67V402.67" fill="none" stroke="#1ea5c8" stroke-width="1.0" stroke-dasharray="4.2 1.6 0.9 1.7" clip-path="url(#cr)"/>
<path d="M87.48,408.35H90.48M87.48,414.35H90.48M98.08,408.35H101.08M98.08,414.35H101.08M108.69,403.09H111.69M108.69,411.09H111.69M119.30,391.14H122.30M119.30,401.14H122.30M129.90,409.74H132.90M129.90,419.74H132.90M140.51,396.24H143.51M140.51,406.24H143.51M151.12,388.91H154.12M151.12,400.91H154.12M161.72,387.34H164.72M161.72,397.34H164.72M172.33,406.17H175.33M172.33,422.17H175.33M190.89,386.01H193.89M190.89,398.01H193.89M217.40,384.51H220.40M217.40,396.51H220.40M243.92,383.72H246.92M243.92,407.72H246.92M270.43,364.12H273.43M270.43,388.12H273.43M323.46,382.67H326.46M323.46,402.67H326.46" fill="none" stroke="#1ea5c8" stroke-width="1" clip-path="url(#cr)"/>
<g clip-path="url(#cr)"><path d="M57.16,410.15L60.11,404.55L54.21,404.55Z" fill="#1ea5c8"/><path d="M67.77,414.25L70.72,408.65L64.82,408.65Z" fill="#1ea5c8"/><path d="M78.37,418.35L81.32,412.75L75.42,412.75Z" fill="#1ea5c8"/><path d="M88.98,414.25L91.93,408.65L86.03,408.65Z" fill="#1ea5c8"/><path d="M99.58,414.25L102.53,408.65L96.63,408.65Z" fill="#1ea5c8"/><path d="M110.19,409.95L113.14,404.35L107.24,404.35Z" fill="#1ea5c8"/><path d="M120.80,398.95L123.75,393.35L117.85,393.35Z" fill="#1ea5c8"/><path d="M131.40,417.55L134.35,411.95L128.45,411.95Z" fill="#1ea5c8"/><path d="M142.01,404.05L144.96,398.45L139.06,398.45Z" fill="#1ea5c8"/><path d="M152.62,397.65L155.56,392.05L149.67,392.05Z" fill="#1ea5c8"/><path d="M163.22,395.15L166.17,389.55L160.27,389.55Z" fill="#1ea5c8"/><path d="M173.83,416.75L176.78,411.15L170.88,411.15Z" fill="#1ea5c8"/><path d="M192.39,394.75L195.34,389.15L189.44,389.15Z" fill="#1ea5c8"/><path d="M218.90,393.25L221.85,387.65L215.95,387.65Z" fill="#1ea5c8"/><path d="M245.42,397.85L248.37,392.25L242.47,392.25Z" fill="#1ea5c8"/><path d="M271.93,378.25L274.88,372.65L268.98,372.65Z" fill="#1ea5c8"/><path d="M324.96,395.05L327.91,389.45L322.01,389.45Z" fill="#1ea5c8"/></g>
<rect x="73.50" y="59.20" width="5.8" height="5.8" fill="#000"/>
<text x="94.2" y="65.00" font-size="9.4" fill="#000">ALICE</text>
<path d="M63.9,75.00H73.4M79.4,75.00H88.5" stroke="#a5540a" stroke-width="1.0" stroke-dasharray="2.6 1.6"/>
<circle cx="76.40" cy="75.16" r="2.6" fill="none" stroke="#a5540a" stroke-width="1.25"/>
<text x="94.2" y="78.06" font-size="9.4" fill="#000">Herwig++ 2.7.1 default</text>
<line x1="63.9" y1="88.00" x2="88.5" y2="88.00" stroke="#3d9e16" stroke-width="1.0" stroke-dasharray="2.6 1.6"/>
<rect x="73.65" y="85.47" width="5.5" height="5.5" fill="none" stroke="#3d9e16" stroke-width="1.1"/>
<text x="94.2" y="91.12" font-size="9.4" fill="#000">Herwig 7.2.1 default</text>
<line x1="63.9" y1="101.00" x2="88.5" y2="101.00" stroke="#0000e6" stroke-width="1.0"/>
<path d="M76.40,98.33L79.35,103.94L73.45,103.94Z" fill="#0000e6"/>
<text x="94.2" y="104.18" font-size="9.4" fill="#000">Pythia 8.315 default</text>
<line x1="63.9" y1="114.00" x2="88.5" y2="114.00" stroke="#1ea5c8" stroke-width="1.0" stroke-dasharray="4.2 1.6 0.9 1.7"/>
<path d="M76.40,117.29L79.35,111.69L73.45,111.69Z" fill="#1ea5c8"/>
<text x="94.2" y="117.24" font-size="9.4" fill="#000">Pythia 8.315 vincia-default</text>
<line x1="63.9" y1="127.00" x2="88.5" y2="127.00" stroke="#ff0000" stroke-width="1.0" stroke-dasharray="1 1"/>
<path d="M76.40,124.00L78.90,127.40L76.40,130.80L73.90,127.40Z" fill="#ff0000"/>
<text x="94.2" y="130.30" font-size="9.4" fill="#000">Sherpa 2.2.9 default</text>
<text x="51.6" y="13.7" font-size="12" fill="#000">13000 GeV pp</text>
<text x="366" y="13.5" font-size="12" text-anchor="end" fill="#000">Soft QCD</text>
<text x="208.3" y="43.8" font-size="12" text-anchor="middle" fill="#000">ALICE, 13 TeV</text>
<text x="208.3" y="302.1" font-size="7.95" text-anchor="middle" fill="#a0a0a0">(ALICE_2020_I1797443)</text>
<text x="40.3" y="77.70" font-size="11.2" text-anchor="end" fill="#000">10</text>
<text x="40.3" y="174.40" font-size="11.2" text-anchor="end" fill="#000">1</text>
<text x="21.1" y="271.90" font-size="11" fill="#000">10</text>
<text x="32.6" y="267.90" font-size="7.4" fill="#000">−1</text>
<text x="38.4" y="341.49" font-size="11.5" text-anchor="end" fill="#000">2</text>
<text x="373.6" y="341.49" font-size="11.5" fill="#000">2</text>
<text x="38.4" y="402.00" font-size="11.5" text-anchor="end" fill="#000">1</text>
<text x="373.6" y="402.00" font-size="11.5" fill="#000">1</text>
<text x="38.4" y="462.51" font-size="11.5" text-anchor="end" fill="#000">0.5</text>
<text x="373.6" y="462.51" font-size="11.5" fill="#000">0.5</text>
<text x="126.10" y="489.5" font-size="11.5" text-anchor="middle" fill="#000">2</text>
<text x="232.16" y="489.5" font-size="11.5" text-anchor="middle" fill="#000">4</text>
<text x="338.22" y="489.5" font-size="11.5" text-anchor="middle" fill="#000">6</text>
<text x="325.6" y="500.6" font-size="12" fill="#000">p</text>
<text x="332.3" y="508.2" font-size="7.8" fill="#000">T</text>
<text x="340.9" y="500.6" font-size="12" fill="#000">[GeV]</text>
<text transform="translate(379.9,126.6) rotate(-90)" font-size="9.45" fill="#555">Rivet 4.1.0, ≥ 2.1M events</text>
<text transform="translate(380.8,313.2) rotate(-90)" font-size="9.35" fill="#555">mcplots.cern.ch [arXiv:1306.3436]</text>
<text transform="translate(18.7,396.6) rotate(-90)" font-size="9.4" text-anchor="middle" fill="#000">Ratio to ALICE</text>
<g transform="translate(16.1,0) rotate(-90)" fill="#000"><text x="-40.9" y="0" font-size="12" style="font-family:'Liberation Serif',serif">Ξ</text><text x="-29.6" y="0" font-size="12" style="font-family:'Liberation Serif',serif">/</text><text x="-23.9" y="-0.5" font-size="12" style="font-family:'Liberation Serif',serif">ϕ</text></g>
</svg>
</body></html>
